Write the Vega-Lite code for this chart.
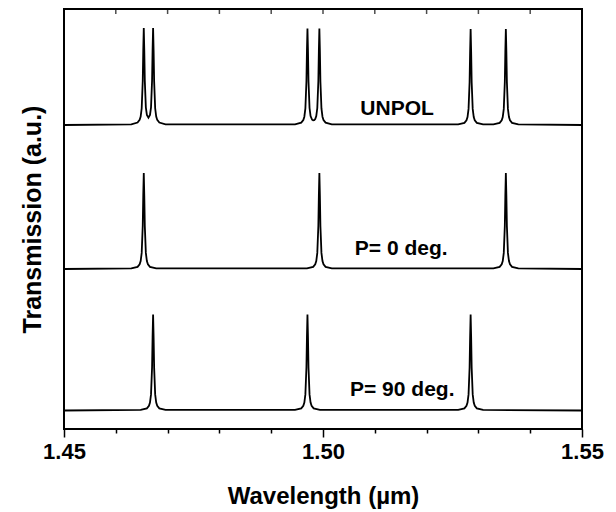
{
  "$schema": "https://vega.github.io/schema/vega-lite/v6.json",
  "autosize": {"type": "none"},
  "width": 518,
  "height": 420,
  "padding": {"left": 64, "top": 9, "right": 34, "bottom": 83},
  "background": "white",
  "config": {
    "view": {"stroke": "black", "strokeWidth": 2},
    "font": "Liberation Sans"
  },
  "datasets": {
    "spectra": [
      {"series": "UNPOL", "wl": 1.45, "t": 3.04},
      {"series": "UNPOL", "wl": 1.463, "t": 3.0471},
      {"series": "UNPOL", "wl": 1.4642, "t": 3.0646},
      {"series": "UNPOL", "wl": 1.4646, "t": 3.0909},
      {"series": "UNPOL", "wl": 1.4648, "t": 3.1247},
      {"series": "UNPOL", "wl": 1.465, "t": 3.2076},
      {"series": "UNPOL", "wl": 1.4652, "t": 3.4778},
      {"series": "UNPOL", "wl": 1.4653, "t": 3.782},
      {"series": "UNPOL", "wl": 1.4654, "t": 4.0095},
      {"series": "UNPOL", "wl": 1.4655, "t": 3.784},
      {"series": "UNPOL", "wl": 1.4656, "t": 3.482},
      {"series": "UNPOL", "wl": 1.4658, "t": 3.217},
      {"series": "UNPOL", "wl": 1.466, "t": 3.1404},
      {"series": "UNPOL", "wl": 1.4663, "t": 3.1139},
      {"series": "UNPOL", "wl": 1.4666, "t": 3.1404},
      {"series": "UNPOL", "wl": 1.4668, "t": 3.217},
      {"series": "UNPOL", "wl": 1.467, "t": 3.482},
      {"series": "UNPOL", "wl": 1.4671, "t": 3.784},
      {"series": "UNPOL", "wl": 1.4672, "t": 4.0095},
      {"series": "UNPOL", "wl": 1.4673, "t": 3.782},
      {"series": "UNPOL", "wl": 1.4674, "t": 3.4778},
      {"series": "UNPOL", "wl": 1.4676, "t": 3.2076},
      {"series": "UNPOL", "wl": 1.4678, "t": 3.1247},
      {"series": "UNPOL", "wl": 1.468, "t": 3.0909},
      {"series": "UNPOL", "wl": 1.4684, "t": 3.0646},
      {"series": "UNPOL", "wl": 1.4696, "t": 3.0471},
      {"series": "UNPOL", "wl": 1.4946, "t": 3.0468},
      {"series": "UNPOL", "wl": 1.4958, "t": 3.0636},
      {"series": "UNPOL", "wl": 1.4962, "t": 3.0895},
      {"series": "UNPOL", "wl": 1.4964, "t": 3.1229},
      {"series": "UNPOL", "wl": 1.4966, "t": 3.2055},
      {"series": "UNPOL", "wl": 1.4968, "t": 3.475},
      {"series": "UNPOL", "wl": 1.4969, "t": 3.7788},
      {"series": "UNPOL", "wl": 1.497, "t": 4.0059},
      {"series": "UNPOL", "wl": 1.4971, "t": 3.7798},
      {"series": "UNPOL", "wl": 1.4972, "t": 3.4771},
      {"series": "UNPOL", "wl": 1.4974, "t": 3.2098},
      {"series": "UNPOL", "wl": 1.4976, "t": 3.13},
      {"series": "UNPOL", "wl": 1.4979, "t": 3.0926},
      {"series": "UNPOL", "wl": 1.4981, "t": 3.0862},
      {"series": "UNPOL", "wl": 1.4983, "t": 3.0882},
      {"series": "UNPOL", "wl": 1.4985, "t": 3.0999},
      {"series": "UNPOL", "wl": 1.4987, "t": 3.13},
      {"series": "UNPOL", "wl": 1.4989, "t": 3.2098},
      {"series": "UNPOL", "wl": 1.4991, "t": 3.4771},
      {"series": "UNPOL", "wl": 1.4992, "t": 3.7798},
      {"series": "UNPOL", "wl": 1.4993, "t": 4.0059},
      {"series": "UNPOL", "wl": 1.4994, "t": 3.7788},
      {"series": "UNPOL", "wl": 1.4995, "t": 3.475},
      {"series": "UNPOL", "wl": 1.4997, "t": 3.2055},
      {"series": "UNPOL", "wl": 1.4999, "t": 3.1229},
      {"series": "UNPOL", "wl": 1.5001, "t": 3.0895},
      {"series": "UNPOL", "wl": 1.5005, "t": 3.0636},
      {"series": "UNPOL", "wl": 1.5017, "t": 3.0468},
      {"series": "UNPOL", "wl": 1.5261, "t": 3.0454},
      {"series": "UNPOL", "wl": 1.5273, "t": 3.0611},
      {"series": "UNPOL", "wl": 1.5277, "t": 3.0863},
      {"series": "UNPOL", "wl": 1.5279, "t": 3.1193},
      {"series": "UNPOL", "wl": 1.5281, "t": 3.201},
      {"series": "UNPOL", "wl": 1.5283, "t": 3.47},
      {"series": "UNPOL", "wl": 1.5284, "t": 3.773},
      {"series": "UNPOL", "wl": 1.5285, "t": 4.0},
      {"series": "UNPOL", "wl": 1.5286, "t": 3.773},
      {"series": "UNPOL", "wl": 1.5287, "t": 3.47},
      {"series": "UNPOL", "wl": 1.5289, "t": 3.201},
      {"series": "UNPOL", "wl": 1.5291, "t": 3.1193},
      {"series": "UNPOL", "wl": 1.5293, "t": 3.0863},
      {"series": "UNPOL", "wl": 1.5297, "t": 3.0611},
      {"series": "UNPOL", "wl": 1.5309, "t": 3.0454},
      {"series": "UNPOL", "wl": 1.5329, "t": 3.0454},
      {"series": "UNPOL", "wl": 1.5341, "t": 3.0611},
      {"series": "UNPOL", "wl": 1.5345, "t": 3.0863},
      {"series": "UNPOL", "wl": 1.5347, "t": 3.1193},
      {"series": "UNPOL", "wl": 1.5349, "t": 3.201},
      {"series": "UNPOL", "wl": 1.5351, "t": 3.47},
      {"series": "UNPOL", "wl": 1.5352, "t": 3.773},
      {"series": "UNPOL", "wl": 1.5353, "t": 4.0},
      {"series": "UNPOL", "wl": 1.5354, "t": 3.773},
      {"series": "UNPOL", "wl": 1.5355, "t": 3.47},
      {"series": "UNPOL", "wl": 1.5357, "t": 3.201},
      {"series": "UNPOL", "wl": 1.5359, "t": 3.1193},
      {"series": "UNPOL", "wl": 1.5361, "t": 3.0863},
      {"series": "UNPOL", "wl": 1.5365, "t": 3.0611},
      {"series": "UNPOL", "wl": 1.5377, "t": 3.0454},
      {"series": "UNPOL", "wl": 1.55, "t": 3.04},

      {"series": "P0", "wl": 1.45, "t": 1.6},
      {"series": "P0", "wl": 1.463, "t": 1.6054},
      {"series": "P0", "wl": 1.4642, "t": 1.6211},
      {"series": "P0", "wl": 1.4646, "t": 1.6463},
      {"series": "P0", "wl": 1.4648, "t": 1.6793},
      {"series": "P0", "wl": 1.465, "t": 1.761},
      {"series": "P0", "wl": 1.4652, "t": 2.03},
      {"series": "P0", "wl": 1.4653, "t": 2.333},
      {"series": "P0", "wl": 1.4654, "t": 2.56},
      {"series": "P0", "wl": 1.4655, "t": 2.333},
      {"series": "P0", "wl": 1.4656, "t": 2.03},
      {"series": "P0", "wl": 1.4658, "t": 1.761},
      {"series": "P0", "wl": 1.466, "t": 1.6793},
      {"series": "P0", "wl": 1.4662, "t": 1.6463},
      {"series": "P0", "wl": 1.4666, "t": 1.6211},
      {"series": "P0", "wl": 1.4678, "t": 1.6054},
      {"series": "P0", "wl": 1.4969, "t": 1.6054},
      {"series": "P0", "wl": 1.4981, "t": 1.6211},
      {"series": "P0", "wl": 1.4985, "t": 1.6463},
      {"series": "P0", "wl": 1.4987, "t": 1.6793},
      {"series": "P0", "wl": 1.4989, "t": 1.761},
      {"series": "P0", "wl": 1.4991, "t": 2.03},
      {"series": "P0", "wl": 1.4992, "t": 2.333},
      {"series": "P0", "wl": 1.4993, "t": 2.56},
      {"series": "P0", "wl": 1.4994, "t": 2.333},
      {"series": "P0", "wl": 1.4995, "t": 2.03},
      {"series": "P0", "wl": 1.4997, "t": 1.761},
      {"series": "P0", "wl": 1.4999, "t": 1.6793},
      {"series": "P0", "wl": 1.5001, "t": 1.6463},
      {"series": "P0", "wl": 1.5005, "t": 1.6211},
      {"series": "P0", "wl": 1.5017, "t": 1.6054},
      {"series": "P0", "wl": 1.5329, "t": 1.6054},
      {"series": "P0", "wl": 1.5341, "t": 1.6211},
      {"series": "P0", "wl": 1.5345, "t": 1.6463},
      {"series": "P0", "wl": 1.5347, "t": 1.6793},
      {"series": "P0", "wl": 1.5349, "t": 1.761},
      {"series": "P0", "wl": 1.5351, "t": 2.03},
      {"series": "P0", "wl": 1.5352, "t": 2.333},
      {"series": "P0", "wl": 1.5353, "t": 2.56},
      {"series": "P0", "wl": 1.5354, "t": 2.333},
      {"series": "P0", "wl": 1.5355, "t": 2.03},
      {"series": "P0", "wl": 1.5357, "t": 1.761},
      {"series": "P0", "wl": 1.5359, "t": 1.6793},
      {"series": "P0", "wl": 1.5361, "t": 1.6463},
      {"series": "P0", "wl": 1.5365, "t": 1.6211},
      {"series": "P0", "wl": 1.5377, "t": 1.6054},
      {"series": "P0", "wl": 1.55, "t": 1.6},

      {"series": "P90", "wl": 1.45, "t": 0.185},
      {"series": "P90", "wl": 1.4648, "t": 0.1904},
      {"series": "P90", "wl": 1.466, "t": 0.2061},
      {"series": "P90", "wl": 1.4664, "t": 0.2313},
      {"series": "P90", "wl": 1.4666, "t": 0.2643},
      {"series": "P90", "wl": 1.4668, "t": 0.346},
      {"series": "P90", "wl": 1.467, "t": 0.615},
      {"series": "P90", "wl": 1.4671, "t": 0.918},
      {"series": "P90", "wl": 1.4672, "t": 1.145},
      {"series": "P90", "wl": 1.4673, "t": 0.918},
      {"series": "P90", "wl": 1.4674, "t": 0.615},
      {"series": "P90", "wl": 1.4676, "t": 0.346},
      {"series": "P90", "wl": 1.4678, "t": 0.2643},
      {"series": "P90", "wl": 1.468, "t": 0.2313},
      {"series": "P90", "wl": 1.4684, "t": 0.2061},
      {"series": "P90", "wl": 1.4696, "t": 0.1904},
      {"series": "P90", "wl": 1.4946, "t": 0.1904},
      {"series": "P90", "wl": 1.4958, "t": 0.2061},
      {"series": "P90", "wl": 1.4962, "t": 0.2313},
      {"series": "P90", "wl": 1.4964, "t": 0.2643},
      {"series": "P90", "wl": 1.4966, "t": 0.346},
      {"series": "P90", "wl": 1.4968, "t": 0.615},
      {"series": "P90", "wl": 1.4969, "t": 0.918},
      {"series": "P90", "wl": 1.497, "t": 1.145},
      {"series": "P90", "wl": 1.4971, "t": 0.918},
      {"series": "P90", "wl": 1.4972, "t": 0.615},
      {"series": "P90", "wl": 1.4974, "t": 0.346},
      {"series": "P90", "wl": 1.4976, "t": 0.2643},
      {"series": "P90", "wl": 1.4978, "t": 0.2313},
      {"series": "P90", "wl": 1.4982, "t": 0.2061},
      {"series": "P90", "wl": 1.4994, "t": 0.1904},
      {"series": "P90", "wl": 1.5261, "t": 0.1904},
      {"series": "P90", "wl": 1.5273, "t": 0.2061},
      {"series": "P90", "wl": 1.5277, "t": 0.2313},
      {"series": "P90", "wl": 1.5279, "t": 0.2643},
      {"series": "P90", "wl": 1.5281, "t": 0.346},
      {"series": "P90", "wl": 1.5283, "t": 0.615},
      {"series": "P90", "wl": 1.5284, "t": 0.918},
      {"series": "P90", "wl": 1.5285, "t": 1.145},
      {"series": "P90", "wl": 1.5286, "t": 0.918},
      {"series": "P90", "wl": 1.5287, "t": 0.615},
      {"series": "P90", "wl": 1.5289, "t": 0.346},
      {"series": "P90", "wl": 1.5291, "t": 0.2643},
      {"series": "P90", "wl": 1.5293, "t": 0.2313},
      {"series": "P90", "wl": 1.5297, "t": 0.2061},
      {"series": "P90", "wl": 1.5309, "t": 0.1904},
      {"series": "P90", "wl": 1.55, "t": 0.185}
    ],
    "labels": [
      {"label": "UNPOL", "wl": 1.5143, "t": 3.14},
      {"label": "P= 0 deg.", "wl": 1.5151, "t": 1.74},
      {"label": "P= 90 deg.", "wl": 1.5153, "t": 0.33}
    ],
    "topticks": [
      {"wl": 1.46}, {"wl": 1.47}, {"wl": 1.48}, {"wl": 1.49}, {"wl": 1.5},
      {"wl": 1.51}, {"wl": 1.52}, {"wl": 1.53}, {"wl": 1.54}
    ]
  },
  "layer": [
    {
      "data": {"name": "spectra"},
      "mark": {"type": "line", "color": "black", "strokeWidth": 1.8, "clip": true},
      "encoding": {
        "x": {
          "field": "wl", "type": "quantitative",
          "scale": {"domain": [1.45, 1.55], "nice": false, "zero": false},
          "axis": {
            "orient": "bottom",
            "values": [1.45, 1.46, 1.47, 1.48, 1.49, 1.5, 1.51, 1.52, 1.53, 1.54, 1.55],
            "labelExpr": "abs(datum.value*20 - round(datum.value*20)) < 0.001 ? format(datum.value, '.2f') : ''",
            "tickSize": {"condition": {"test": "abs(datum.value*20 - round(datum.value*20)) < 0.001", "value": 8}, "value": 4},
            "tickColor": "black",
            "tickWidth": 1.5,
            "domain": false,
            "grid": false,
            "labelFlush": false,
            "labelOverlap": false,
            "labelFont": "Liberation Sans",
            "labelFontWeight": "bold",
            "labelFontSize": 22,
            "labelColor": "black",
            "labelPadding": 4,
            "title": "Wavelength (µm)",
            "titleFont": "Liberation Sans",
            "titleFontWeight": "bold",
            "titleFontSize": 24,
            "titleColor": "black",
            "titleBaseline": "alphabetic",
            "titleY": 74
          }
        },
        "y": {
          "field": "t", "type": "quantitative",
          "scale": {"domain": [0, 4.2], "nice": false, "zero": false},
          "axis": {
            "domain": false,
            "ticks": false,
            "labels": false,
            "grid": false,
            "title": "Transmission (a.u.)",
            "titleFont": "Liberation Sans",
            "titleFontWeight": "bold",
            "titleFontSize": 25,
            "titleColor": "black",
            "titleAngle": -90,
            "titleBaseline": "alphabetic",
            "titleX": -24,
            "titleY": 210
          }
        },
        "detail": {"field": "series", "type": "nominal"},
        "order": {"field": "wl", "type": "quantitative"}
      }
    },
    {
      "data": {"name": "topticks"},
      "mark": {"type": "tick", "orient": "vertical", "color": "black", "thickness": 1.5, "size": 10, "clip": true},
      "encoding": {
        "x": {"field": "wl", "type": "quantitative"},
        "y": {"datum": 4.2, "type": "quantitative"}
      }
    },
    {
      "data": {"name": "labels"},
      "mark": {"type": "text", "font": "Liberation Sans", "fontWeight": "bold", "fontSize": 21, "color": "black", "align": "center", "baseline": "alphabetic"},
      "encoding": {
        "x": {"field": "wl", "type": "quantitative"},
        "y": {"field": "t", "type": "quantitative"},
        "text": {"field": "label", "type": "nominal"}
      }
    }
  ]
}
